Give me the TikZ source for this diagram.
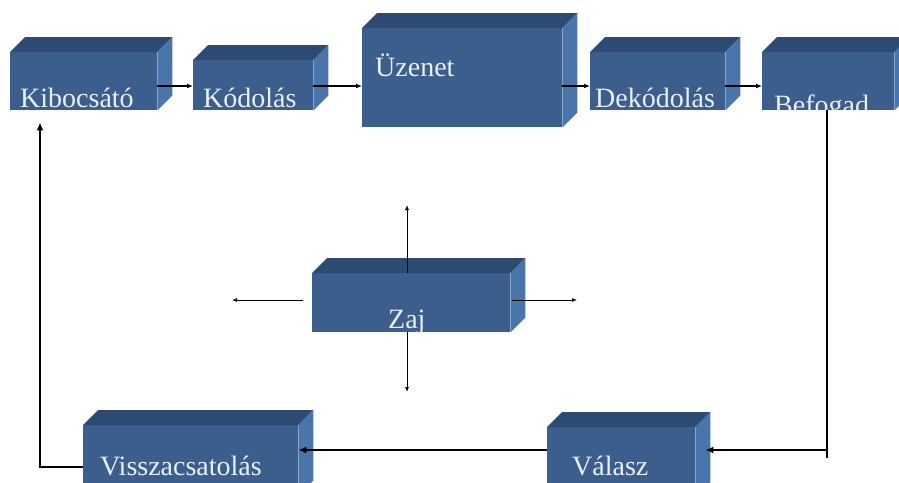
\documentclass[tikz,border=0pt]{standalone}
\usepackage{fontspec}
\setmainfont{Liberation Serif}
\usetikzlibrary{arrows.meta}
\definecolor{frontblue}{RGB}{59,94,141}
\definecolor{topblue}{RGB}{45,74,114}
\definecolor{sideblue}{RGB}{74,117,171}
\definecolor{txtblue}{RGB}{232,239,248}
\begin{document}
\begin{tikzpicture}
[
   x=1pt,y=-1pt,
   box/.style={rectangle,fill=frontblue,anchor=north west,inner sep=0pt},
   lbl/.style={anchor=base west,inner sep=0pt,text=txtblue,font=\fontsize{28}{30}\selectfont},
   flow/.style={line width=1.8pt,-{Latex[length=6pt,width=5pt]}},
   fb/.style={line width=2.6pt},
   noise/.style={line width=0.9pt,-{Latex[length=5pt,width=4pt]}}
]
\useasboundingbox (0,0) rectangle (899,482);
\clip (0,0) rectangle (899,482);
\fill[white] (0,0) rectangle (899,482);

% front faces
\node[box,minimum width=147pt,minimum height=58pt] (kib) at (10,52) {};
\node[box,minimum width=120pt,minimum height=50pt] (kod) at (193,60) {};
\node[box,minimum width=200pt,minimum height=99pt] (uze) at (362,28) {};
\node[box,minimum width=135pt,minimum height=58pt] (dek) at (590,52) {};
\node[box,minimum width=132pt,minimum height=58pt] (bef) at (762,52) {};
\node[box,minimum width=198pt,minimum height=59pt] (zaj) at (312,273) {};
\node[box,minimum width=215pt,minimum height=70pt] (vis) at (83,425) {};
\node[box,minimum width=148pt,minimum height=70pt] (val) at (547,427) {};

% top and side faces
\foreach \n in {kib,kod,uze,dek,bef,zaj,vis,val} {
  \fill[topblue] (\n.north west) -- ++(15,-15) -- ([shift={(15,-15)}]\n.north east)
    -- (\n.north east) -- cycle;
  \fill[sideblue] (\n.north east) -- ++(15,-15) -- ([shift={(15,-15)}]\n.south east)
    -- (\n.south east) -- cycle;
}

% labels
\node[lbl] (kibT) at (20,107) {Kibocsátó};
\node[lbl] (kodT) at (203,107) {Kódolás};
\node[lbl] (uzeT) at (375,76) {Üzenet};
\node[lbl] (dekT) at (595,107) {Dekódolás};
\begin{scope}
  \clip (bef.south west) rectangle ([shift={(15,-15)}]bef.north east);
  \node[lbl] (befT) at (774,114) {Befogad};
\end{scope}
\node[lbl] (zajT) at (388,328) {Zaj};
\node[lbl] (visT) at (100,475) {Visszacsatolás};
\node[lbl] (valT) at (572,475) {Válasz};

% main line
\coordinate (row) at (0,86);
\draw[flow] (kib.east |- row) -- (kod.west |- row);
\draw[flow] (kod.east |- row) -- (uze.west |- row);
\draw[flow] (uze.east |- row) -- (dek.west |- row);
\draw[flow] (dek.east |- row) -- (bef.west |- row);

% feedback
\coordinate (turnR) at (827,450);
\coordinate (turnL) at (40,467);
\draw[fb] (bef.south -| turnR) -- ([yshift=-8pt]turnR);
\draw[fb,-{Latex[length=8pt,width=7pt]}] (turnR) -- ([xshift=10pt]val.east |- turnR);
\draw[fb,-{Latex[length=8pt,width=7pt]}] (val.west |- turnR) -- (vis.east |- turnR);
\draw[fb,-{Latex[length=8pt,width=7pt]}] (vis.west |- turnL) -- (turnL)
  -- ([yshift=-12pt]kib.south -| turnL);

% noise
\coordinate (nUp) at (407,205);
\coordinate (nDown) at (407,392);
\coordinate (nLeft) at (232,300);
\coordinate (nRight) at (577,300);
\draw[noise] (zaj.north -| nUp) -- (nUp);
\draw[noise] (zaj.south -| nDown) -- (nDown);
\draw[noise] ([xshift=-9pt]zaj.west |- nLeft) -- (nLeft);
\draw[noise] ([xshift=2pt]zaj.east |- nRight) -- (nRight);
\end{tikzpicture}
\end{document}
